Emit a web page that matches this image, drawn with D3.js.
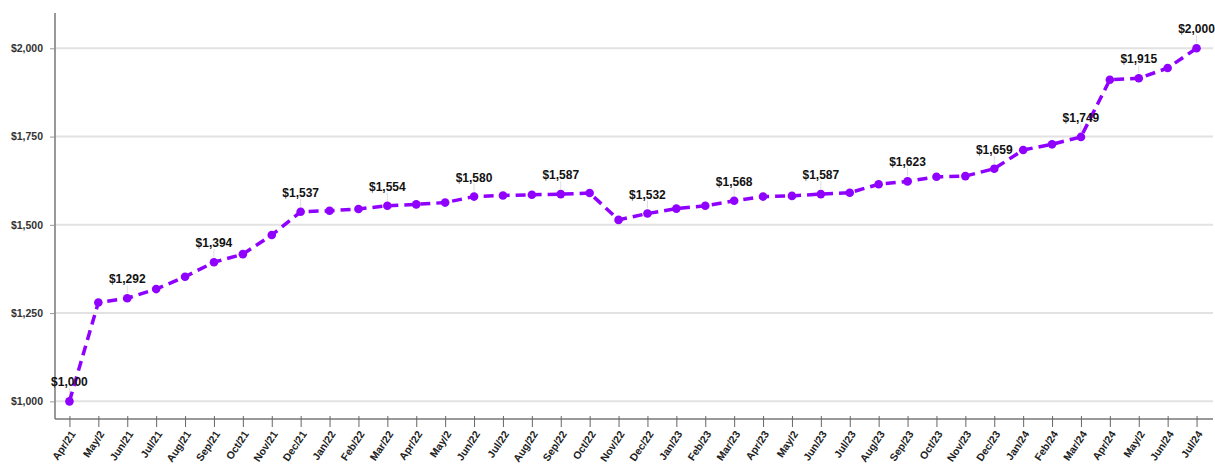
<!DOCTYPE html>
<html><head><meta charset="utf-8">
<script src="https://cdn.jsdelivr.net/npm/d3@7"></script>
<style>body{margin:0;background:#fff;}svg{display:block;}</style>
</head><body>
<svg id="c" width="1215" height="466"></svg>
<script>
const months = ["Apr/21","May/2","Jun/21","Jul/21","Aug/21","Sep/21","Oct/21","Nov/21","Dec/21",
  "Jan/22","Feb/22","Mar/22","Apr/22","May/2","Jun/22","Jul/22","Aug/22","Sep/22","Oct/22","Nov/22","Dec/22",
  "Jan/23","Feb/23","Mar/23","Apr/23","May/2","Jun/23","Jul/23","Aug/23","Sep/23","Oct/23","Nov/23","Dec/23",
  "Jan/24","Feb/24","Mar/24","Apr/24","May/2","Jun/24","Jul/24"];
const values = [1000,1280,1292,1318,1353,1394,1417,1471,1537,
  1540,1545,1554,1558,1563,1580,1583,1585,1587,1590,1514,1532,
  1546,1554,1568,1580,1582,1587,1591,1615,1623,1636,1638,1659,
  1712,1728,1749,1911,1915,1944,2000];
const labeledIdx = [0,2,5,8,11,14,17,20,23,26,29,32,35,37,39];
const yTicks = [1000,1250,1500,1750,2000];

const svg = d3.select("#c");
const mL = 55, mR = 1211, mT = 13, mB = 419;
const x = d3.scalePoint().domain(d3.range(months.length)).range([mL, mR]).padding(0.5);
const y = d3.scaleLinear().domain([950, 2100]).range([mB, mT]);
const fmt = d3.format("$,.0f");
const color = "#9000ff";

// gridlines
svg.append("g").selectAll("line").data(yTicks).join("line")
  .attr("x1", mL).attr("x2", 1213)
  .attr("y1", d => y(d)).attr("y2", d => y(d))
  .attr("stroke", "#e2e2e2").attr("stroke-width", 2);

// y axis
const ya = svg.append("g").attr("transform", `translate(${mL},0)`)
  .call(d3.axisLeft(y).tickValues(yTicks).tickFormat(fmt).tickSize(5).tickPadding(7));
ya.select(".domain").attr("d", `M0,${mT}V${mB}`).attr("stroke", "#777").attr("stroke-width", 1.5);
ya.selectAll(".tick line").attr("stroke", "#999");
ya.selectAll("text").attr("font-family", "Liberation Sans, Arial, sans-serif")
  .attr("font-size", 10.5).attr("font-weight", "bold").attr("fill", "#333");

// x axis
const xa = svg.append("g").attr("transform", `translate(0,${mB})`)
  .call(d3.axisBottom(x).tickFormat(i => months[i]).tickSize(8).tickSizeOuter(0));
xa.select(".domain").attr("d", `M${mL},0H1213`).attr("stroke", "#777").attr("stroke-width", 1.5);
xa.selectAll(".tick line").attr("y1", -3).attr("stroke", "#666");
xa.selectAll("text")
  .attr("font-family", "Liberation Sans, Arial, sans-serif")
  .attr("font-size", 10.5).attr("font-weight", "bold").attr("fill", "#222")
  .attr("text-anchor", "end").attr("dy", null)
  .attr("transform", "translate(6,15) rotate(-56)")
  .attr("y", 0).attr("x", 0);

// leader lines
const lg = svg.append("g");
lg.selectAll("line").data(labeledIdx).join("line")
  .attr("x1", i => x(i)).attr("x2", i => x(i))
  .attr("y1", i => y(values[i]) - 13).attr("y2", i => y(values[i]) - 5)
  .attr("stroke", "#ddd").attr("stroke-width", 1);

// line
const line = d3.line().x((d, i) => x(i)).y(d => y(d));
svg.append("path").datum(values).attr("d", line)
  .attr("fill", "none").attr("stroke", color).attr("stroke-width", 3.5)
  .attr("stroke-dasharray", "10,6");

svg.append("g").selectAll("circle").data(values).join("circle")
  .attr("cx", (d, i) => x(i)).attr("cy", d => y(d)).attr("r", 4.3).attr("fill", color);

// labels
svg.append("g").selectAll("text").data(labeledIdx).join("text")
  .attr("x", i => x(i)).attr("y", i => y(values[i]) - 15)
  .attr("text-anchor", "middle")
  .attr("font-family", "Liberation Sans, Arial, sans-serif")
  .attr("font-size", 12).attr("font-weight", "bold").attr("fill", "#111")
  .text(i => fmt(values[i]));
</script>
</body></html>
